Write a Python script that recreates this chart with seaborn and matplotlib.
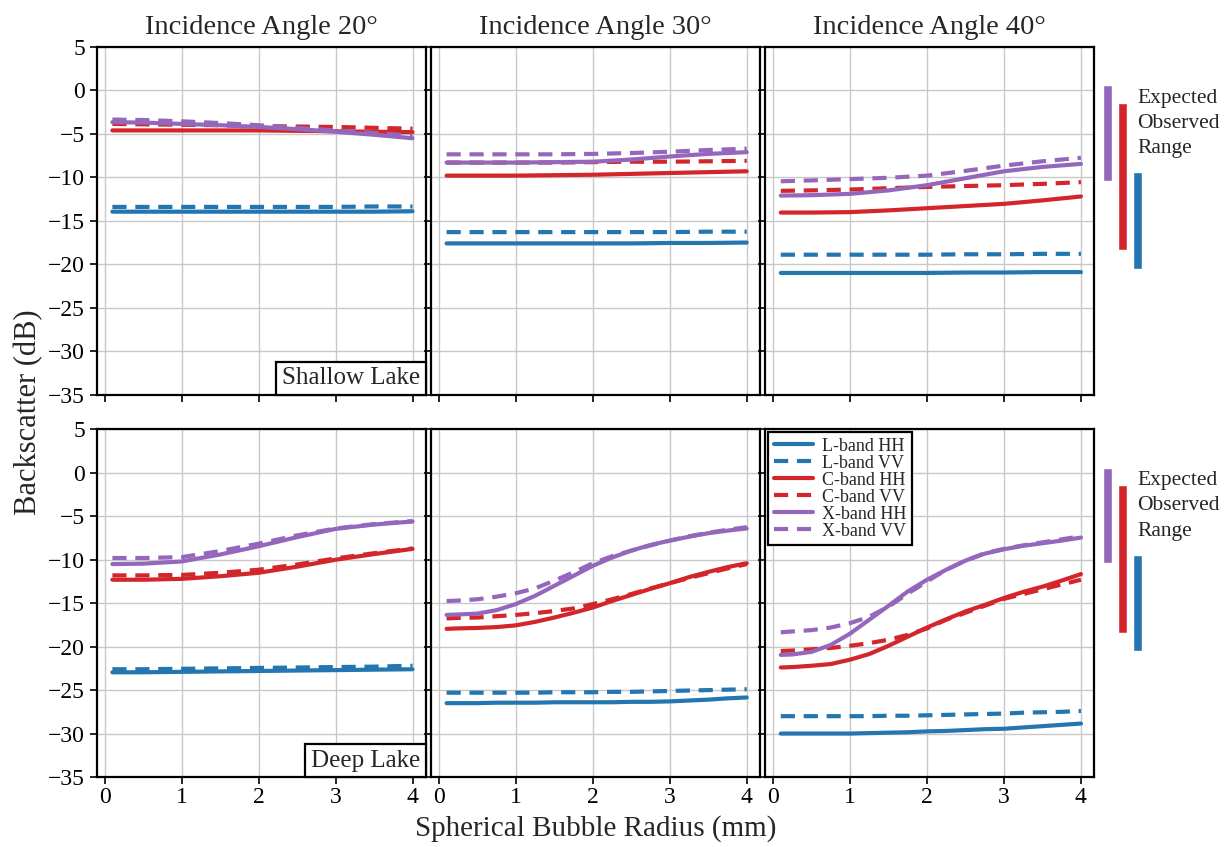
import numpy as np
import pandas as pd
import matplotlib
matplotlib.use("Agg")
import matplotlib.pyplot as plt
from matplotlib.offsetbox import AnchoredText
import seaborn as sns

# ---------------- data ----------------
radius = [0.1, 0.5, 1.0, 1.5, 2.0, 2.5, 3.0, 3.5, 4.0]
radius_fine = [0.1, 0.25, 0.5, 0.75, 1.0, 1.25, 1.5, 1.75, 2.0,
               2.25, 2.5, 2.75, 3.0, 3.25, 3.5, 3.75, 4.0]
angle_titles = ["Incidence Angle 20°", "Incidence Angle 30°", "Incidence Angle 40°"]
lake_labels = ["Shallow Lake", "Deep Lake"]
series_labels = ["L-band HH", "L-band VV", "C-band HH", "C-band VV", "X-band HH", "X-band VV"]

# Shallow lake, 20 deg
sh20_L_HH = [-13.95, -13.95, -13.95, -13.95, -13.95, -13.95, -13.95, -13.95, -13.9]
sh20_L_VV = [-13.4, -13.4, -13.4, -13.4, -13.4, -13.4, -13.4, -13.35, -13.35]
sh20_C_HH = [-4.6, -4.6, -4.6, -4.6, -4.6, -4.65, -4.7, -4.75, -4.8]
sh20_C_VV = [-3.85, -3.9, -3.95, -4.0, -4.1, -4.15, -4.2, -4.3, -4.4]
sh20_X_HH = [-3.65, -3.7, -3.85, -4.0, -4.2, -4.45, -4.75, -5.1, -5.5]
sh20_X_VV = [-3.35, -3.4, -3.55, -3.75, -4.0, -4.3, -4.6, -4.9, -5.2]
# Shallow lake, 30 deg
sh30_L_HH = [-17.6, -17.6, -17.6, -17.6, -17.6, -17.6, -17.55, -17.55, -17.5]
sh30_L_VV = [-16.3, -16.3, -16.3, -16.3, -16.3, -16.3, -16.3, -16.25, -16.25]
sh30_C_HH = [-9.8, -9.8, -9.8, -9.75, -9.7, -9.6, -9.5, -9.4, -9.3]
sh30_C_VV = [-8.3, -8.3, -8.3, -8.3, -8.25, -8.2, -8.2, -8.15, -8.1]
sh30_X_HH = [-8.3, -8.3, -8.3, -8.25, -8.2, -7.95, -7.6, -7.3, -7.1]
sh30_X_VV = [-7.35, -7.35, -7.35, -7.35, -7.3, -7.2, -7.05, -6.85, -6.7]
# Shallow lake, 40 deg
sh40_L_HH = [-21.0, -21.0, -21.0, -21.0, -21.0, -20.95, -20.95, -20.9, -20.9]
sh40_L_VV = [-18.9, -18.9, -18.9, -18.9, -18.9, -18.85, -18.85, -18.8, -18.8]
sh40_C_HH = [-14.05, -14.05, -14.0, -13.8, -13.55, -13.3, -13.05, -12.65, -12.2]
sh40_C_VV = [-11.55, -11.5, -11.4, -11.25, -11.1, -11.0, -10.9, -10.75, -10.55]
sh40_X_HH = [-12.1, -12.05, -11.9, -11.5, -10.9, -10.1, -9.3, -8.8, -8.45]
sh40_X_VV = [-10.45, -10.35, -10.2, -10.05, -9.8, -9.25, -8.65, -8.15, -7.75]
# Deep lake, 20 deg
dp20_L_HH = [-22.95, -22.95, -22.9, -22.85, -22.8, -22.75, -22.7, -22.65, -22.6]
dp20_L_VV = [-22.6, -22.6, -22.55, -22.5, -22.45, -22.4, -22.35, -22.3, -22.2]
dp20_C_HH = [-12.3, -12.3, -12.2, -11.9, -11.5, -10.8, -10.0, -9.35, -8.75]
dp20_C_VV = [-11.8, -11.8, -11.75, -11.5, -11.15, -10.55, -9.85, -9.25, -8.7]
dp20_X_HH = [-10.5, -10.45, -10.2, -9.4, -8.45, -7.4, -6.45, -5.95, -5.6]
dp20_X_VV = [-9.8, -9.8, -9.7, -9.0, -8.15, -7.2, -6.4, -5.9, -5.55]
# Deep lake, 30 deg (read on the fine radius grid)
dp30_L_HH = [-26.5, -26.5, -26.5, -26.45, -26.45, -26.45, -26.4, -26.4, -26.4,
             -26.4, -26.35, -26.35, -26.3, -26.2, -26.1, -25.95, -25.85]
dp30_L_VV = [-25.3, -25.3, -25.3, -25.3, -25.3, -25.3, -25.25, -25.25, -25.25,
             -25.2, -25.2, -25.15, -25.1, -25.05, -25.0, -24.95, -24.9]
dp30_C_HH = [-17.95, -17.9, -17.85, -17.75, -17.55, -17.15, -16.65, -16.1, -15.5,
             -14.75, -14.05, -13.35, -12.7, -12.0, -11.4, -10.85, -10.4]
dp30_C_VV = [-16.75, -16.7, -16.65, -16.5, -16.35, -16.15, -15.9, -15.6, -15.1,
             -14.55, -13.95, -13.3, -12.7, -12.1, -11.55, -11.0, -10.5]
dp30_X_HH = [-16.35, -16.3, -16.2, -15.8, -15.1, -14.15, -13.0, -11.85, -10.7,
             -9.75, -8.95, -8.3, -7.8, -7.35, -6.95, -6.65, -6.4]
dp30_X_VV = [-14.75, -14.7, -14.55, -14.25, -13.85, -13.3, -12.4, -11.45, -10.4,
             -9.6, -8.95, -8.35, -7.8, -7.3, -6.9, -6.55, -6.25]
# Deep lake, 40 deg (read on the fine radius grid)
dp40_L_HH = [-30.0, -30.0, -30.0, -30.0, -30.0, -29.95, -29.9, -29.85, -29.75,
             -29.7, -29.6, -29.5, -29.45, -29.3, -29.15, -29.0, -28.85]
dp40_L_VV = [-28.0, -28.0, -28.0, -28.0, -28.0, -28.0, -27.95, -27.95, -27.9,
             -27.85, -27.8, -27.75, -27.7, -27.6, -27.55, -27.5, -27.4]
dp40_C_HH = [-22.4, -22.35, -22.2, -22.0, -21.5, -20.85, -19.9, -18.85, -17.8,
             -16.85, -15.95, -15.2, -14.4, -13.7, -13.1, -12.4, -11.65]
dp40_C_VV = [-20.5, -20.45, -20.3, -20.15, -19.9, -19.6, -19.2, -18.65, -17.9,
             -16.9, -16.1, -15.3, -14.5, -13.95, -13.4, -12.85, -12.3]
dp40_X_HH = [-20.95, -20.9, -20.6, -19.8, -18.5, -16.9, -15.3, -13.65, -12.3,
             -11.15, -10.1, -9.3, -8.8, -8.4, -8.1, -7.8, -7.45]
dp40_X_VV = [-18.35, -18.25, -18.1, -17.8, -17.3, -16.55, -15.4, -13.9, -12.5,
             -11.15, -10.1, -9.25, -8.75, -8.35, -8.0, -7.65, -7.3]

# Expected observed range bars (dB)
range_bands = ["X", "C", "L"]
range_top = [0.6, -1.4, -9.4]
range_bottom = [-10.4, -18.4, -20.5]

panels = [
    [[sh20_L_HH, sh20_L_VV, sh20_C_HH, sh20_C_VV, sh20_X_HH, sh20_X_VV],
     [sh30_L_HH, sh30_L_VV, sh30_C_HH, sh30_C_VV, sh30_X_HH, sh30_X_VV],
     [sh40_L_HH, sh40_L_VV, sh40_C_HH, sh40_C_VV, sh40_X_HH, sh40_X_VV]],
    [[dp20_L_HH, dp20_L_VV, dp20_C_HH, dp20_C_VV, dp20_X_HH, dp20_X_VV],
     [dp30_L_HH, dp30_L_VV, dp30_C_HH, dp30_C_VV, dp30_X_HH, dp30_X_VV],
     [dp40_L_HH, dp40_L_VV, dp40_C_HH, dp40_C_VV, dp40_X_HH, dp40_X_VV]],
]

# ---------------- style ----------------
blue, red, purple = "#2376b0", "#d3262b", "#9467bd"
series_colors = [blue, blue, red, red, purple, purple]
dash = (0, (3.4, 2.1))
series_styles = ["-", dash, "-", dash, "-", dash]
band_colors = {"X": purple, "C": red, "L": blue}

sns.set_style("whitegrid", {"grid.color": "#c8c8c8", "axes.edgecolor": "black"})
plt.rcParams["font.family"] = ["Liberation Serif", "DejaVu Serif"]
plt.rcParams["axes.unicode_minus"] = True

fig, axes = plt.subplots(2, 3, figsize=(12.25, 8.47), dpi=100, sharex=True, sharey=True)
fig.subplots_adjust(left=97 / 1225, right=1094 / 1225, top=1 - 47 / 847,
                    bottom=1 - 777 / 847, wspace=0.017, hspace=0.10)

for r in range(2):
    for c in range(3):
        ax = axes[r, c]
        series = panels[r][c]
        xs = radius if len(series[0]) == len(radius) else radius_fine
        for vals, col, ls, lab in zip(series, series_colors, series_styles, series_labels):
            sns.lineplot(x=xs, y=vals, ax=ax, color=col, linestyle=ls,
                         linewidth=3.0, label=lab, legend=False)
        ax.set_xlim(-0.1, 4.17)
        ax.set_ylim(-35, 5)
        ax.set_xticks([0, 1, 2, 3, 4])
        ax.set_yticks(np.arange(-35, 6, 5))
        ax.grid(True, color="#c8c8c8", linewidth=1.0)
        for sp in ax.spines.values():
            sp.set_color("black")
            sp.set_linewidth(1.6)
        ax.tick_params(axis="both", which="both", direction="out", length=5, width=1.2,
                       colors="black", labelsize=17, bottom=True, left=True)
        ax.tick_params(axis="x", pad=2)
        ax.tick_params(labelbottom=(r == 1), labelleft=(c == 0))
        ax.set_xlabel("")
        ax.set_ylabel("")
        if r == 0:
            ax.set_title(angle_titles[c], fontsize=20.5, pad=9)

# Lake labels
for r in range(2):
    at = AnchoredText(lake_labels[r], loc="lower right", pad=0.22, borderpad=0.0,
                      prop=dict(size=18), frameon=True)
    at.patch.set_boxstyle("square,pad=0")
    at.patch.set_edgecolor("black")
    at.patch.set_linewidth(1.6)
    axes[r, 0].add_artist(at)

# Legend
lax = axes[1, 2]
leg = lax.legend(handles=lax.lines[:6], labels=series_labels, loc="upper left",
                 fontsize=13, frameon=True, fancybox=False, framealpha=1,
                 edgecolor="black", borderaxespad=0.15, labelspacing=0.0,
                 handlelength=2.2, handletextpad=0.5, borderpad=0.3)
leg.get_frame().set_linewidth(1.6)

# Expected observed range bars (one helper axes per row)
range_df = pd.DataFrame({"band": range_bands, "top": range_top, "bottom": range_bottom})
range_df["span"] = range_df["top"] - range_df["bottom"]
for r in range(2):
    pos = axes[r, 2].get_position()
    rax = fig.add_axes([1100 / 1225, pos.y0, 125 / 1225, pos.height])
    rax.bar(np.arange(len(range_df)), range_df["span"], bottom=range_df["bottom"],
            width=0.62, color=[band_colors[b] for b in range_df["band"]])
    rax.set_xlim(-0.5, -0.5 + 125 / 15)
    rax.set_ylim(-35, 5)
    rax.axis("off")
    rax.text(1.97, 0.2, "Expected\nObserved\nRange", ha="left", va="top",
             fontsize=15.5, linespacing=1.45)

top_y1 = axes[0, 0].get_position().y1
bot_y0 = axes[1, 0].get_position().y0
fig.text(0.023, (top_y1 + bot_y0) / 2, "Backscatter (dB)",
         rotation=90, ha="center", va="center", fontsize=22)
fig.text((97 + 1094) / 2 / 1225, 0.022, "Spherical Bubble Radius (mm)",
         ha="center", va="center", fontsize=21)

fig.savefig("out.png", dpi=100, facecolor="white")
